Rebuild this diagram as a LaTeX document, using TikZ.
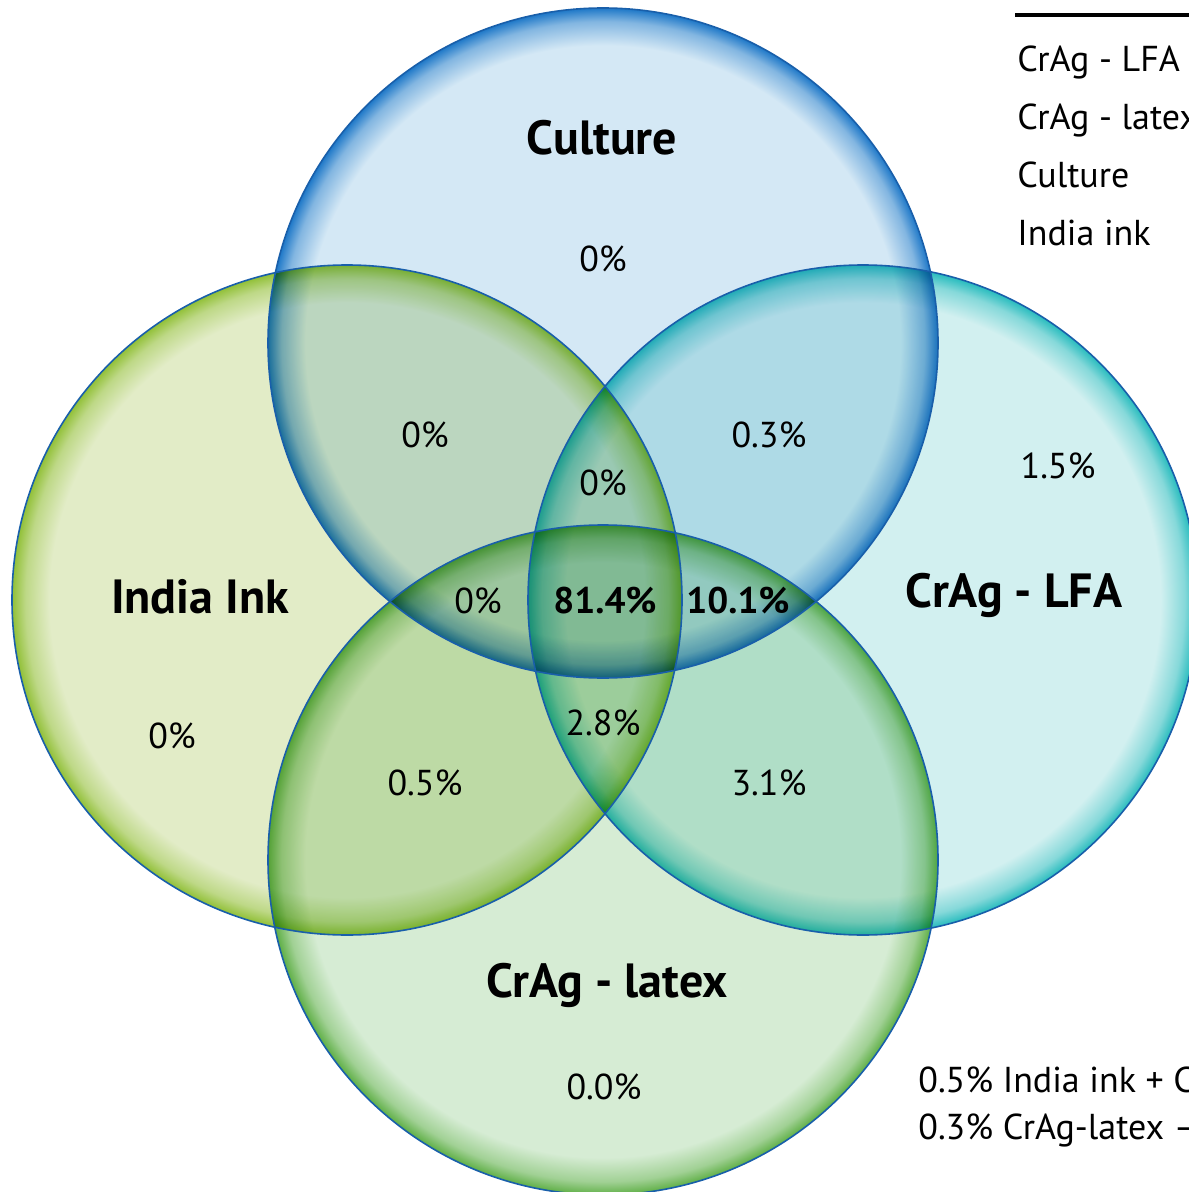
\documentclass[tikz,border=0pt]{standalone}
\usepackage{fontspec}
\setmainfont{PT Sans}

% Colours of the four sets
\definecolor{cultin}{RGB}{212,232,245}
\definecolor{cultedge}{RGB}{30,120,200}
\definecolor{indiain}{RGB}{226,236,199}
\definecolor{indiaedge}{RGB}{145,192,55}
\definecolor{lfain}{RGB}{210,240,240}
\definecolor{lfaedge}{RGB}{40,188,190}
\definecolor{latexin}{RGB}{214,236,212}
\definecolor{latexedge}{RGB}{95,175,70}
\definecolor{rimblue}{RGB}{25,95,170}

% Light inside, darker rim
\pgfdeclareradialshading{cultureshade}{\pgfpoint{0bp}{0bp}}{color(0bp)=(cultin); color(22.2bp)=(cultin); color(24bp)=(cultin!55!cultedge); color(25bp)=(cultedge); color(50bp)=(cultedge)}
\pgfdeclareradialshading{indiashade}{\pgfpoint{0bp}{0bp}}{color(0bp)=(indiain); color(22.2bp)=(indiain); color(24bp)=(indiain!55!indiaedge); color(25bp)=(indiaedge); color(50bp)=(indiaedge)}
\pgfdeclareradialshading{lfashade}{\pgfpoint{0bp}{0bp}}{color(0bp)=(lfain); color(22.2bp)=(lfain); color(24bp)=(lfain!55!lfaedge); color(25bp)=(lfaedge); color(50bp)=(lfaedge)}
\pgfdeclareradialshading{latexshade}{\pgfpoint{0bp}{0bp}}{color(0bp)=(latexin); color(22.2bp)=(latexin); color(24bp)=(latexin!55!latexedge); color(25bp)=(latexedge); color(50bp)=(latexedge)}

\begin{document}
\begin{tikzpicture}[x=0.5pt, y=-0.5pt,
    vennset/.style={blend mode=multiply},
    vennrim/.style={draw=rimblue, line width=0.8pt},
    setlabel/.style={anchor=base, inner sep=0pt, font=\fontsize{24}{28}\selectfont\bfseries},
    pct/.style={anchor=base, inner sep=0pt, font=\fontsize{18}{22}\selectfont},
    pctbold/.style={pct, font=\fontsize{18.5}{22}\selectfont\bfseries},
    legend/.style={anchor=base west, inner sep=0pt, font=\fontsize{18}{22}\selectfont}
]
    \useasboundingbox (0, 0) rectangle (1188, 1192);
    % Venn of four tests
    % - [Fig: the sets]
    \coordinate (culture) at (603, 343);
    \coordinate (india) at (347, 600);
    \coordinate (lfa) at (863, 600);
    \coordinate (latex) at (603, 860);
    \shade [vennset, shading=cultureshade] (culture) circle (335);
    \shade [vennset, shading=indiashade] (india) circle (335);
    \shade [vennset, shading=lfashade] (lfa) circle (335);
    \shade [vennset, shading=latexshade] (latex) circle (335);
    % -- The rims
    \foreach \set in {culture, india, lfa, latex}
        \draw [vennrim] (\set) circle (335);

    % - [Set names]
    \node at (602, 155) [setlabel](lbl_culture){Culture};
    \node at (200, 613) [setlabel](lbl_india){India Ink};
    \node at (1014, 607) [setlabel](lbl_lfa){CrAg - LFA};
    \node at (607, 997) [setlabel](lbl_latex){CrAg - latex};

    % - [Shares]
    \node at (603, 272) [pct](p_c){0\%};
    \node at (425, 447) [pct](p_ci){0\%};
    \node at (769, 447) [pct](p_cl){0.3\%};
    \node at (603, 495) [pct](p_cil){0\%};
    \node at (1058, 478) [pct](p_l){1.5\%};
    \node at (478, 613) [pct](p_cix){0\%};
    \node at (605, 613) [pctbold](p_all){81.4\%};
    \node at (738, 613) [pctbold](p_clx){10.1\%};
    \node at (172, 748) [pct](p_i){0\%};
    \node at (603, 735) [pct](p_ilx){2.8\%};
    \node at (425, 795) [pct](p_ix){0.5\%};
    \node at (769, 795) [pct](p_lx){3.1\%};
    \node at (604, 1099) [pct](p_x){0.0\%};

    % - [Legend]
    \coordinate (rule_a) at (1015, 15);
    \coordinate (rule_b) at (1200, 15);
    \draw [line width=2pt] (rule_a) -- (rule_b);
    \node at (1017, 72) [legend](leg_lfa){CrAg - LFA};
    \node at (1017, 130) [legend](leg_latex){CrAg - latex};
    \node at (1017, 188) [legend](leg_culture){Culture};
    \node at (1017, 246) [legend](leg_india){India ink};
    % -- Notes at the bottom
    \node at (918, 1092) [legend](note_a){0.5\% India ink + C};
    \node at (918, 1139) [legend](note_b){0.3\% CrAg-latex --};
\end{tikzpicture}
\end{document}
